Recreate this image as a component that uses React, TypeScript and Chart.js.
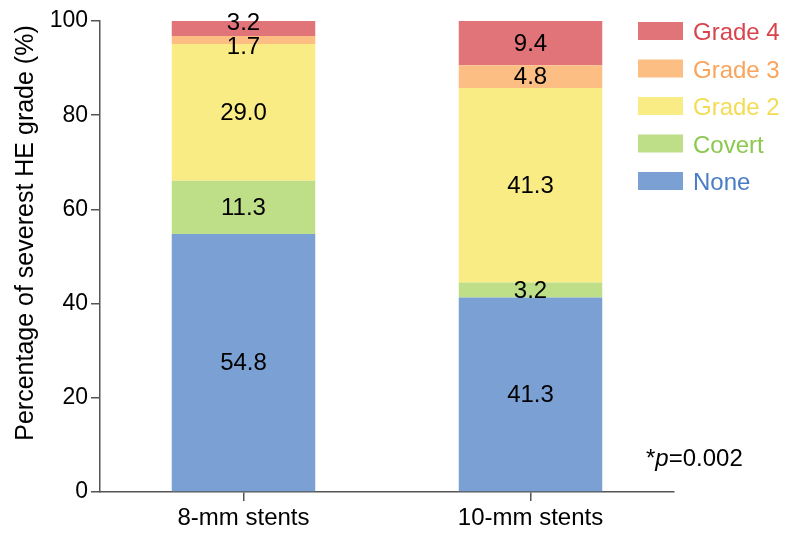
import React, { useEffect, useRef } from "react";
import { Chart, registerables } from "chart.js";

Chart.register(...registerables);

const categories = ["8-mm stents", "10-mm stents"];
const seriesNames = ["None", "Covert", "Grade 2", "Grade 3", "Grade 4"];
const noneValues = [54.8, 41.3];
const covertValues = [11.3, 3.2];
const grade2Values = [29.0, 41.3];
const grade3Values = [1.7, 4.8];
const grade4Values = [3.2, 9.4];
const yTicks = [0, 20, 40, 60, 80, 100];
const barColors = ["#7ba1d4", "#bedf88", "#f9ec84", "#fdbe84", "#e07479"];
const textColors = ["#4a7cc6", "#8cc84e", "#f3dc55", "#f8a45c", "#d8434c"];
const yTitle = "Percentage of severest HE grade (%)";
const pText = "0.002";

const FONT = "'Liberation Sans', Arial, Helvetica, sans-serif";

const overlayPlugin = {
  id: "overlay",
  afterDatasetsDraw(chart: any) {
    const ctx = chart.ctx;
    ctx.save();
    ctx.font = `24px ${FONT}`;
    ctx.fillStyle = "#000";
    ctx.textAlign = "center";
    ctx.textBaseline = "middle";
    const nCat = chart.data.labels.length;
    for (let j = 0; j < nCat; j++) {
      const items: { x: number; y: number; t: string }[] = [];
      chart.data.datasets.forEach((ds: any, i: number) => {
        const el = chart.getDatasetMeta(i).data[j];
        items.push({ x: el.x, y: (el.y + el.base) / 2, t: Number(ds.data[j]).toFixed(1) });
      });
      items.sort((a, b) => a.y - b.y);
      const minGap = 24;
      for (let iter = 0; iter < 10; iter++) {
        for (let k = 0; k < items.length - 1; k++) {
          const a = items[k], b = items[k + 1];
          const gap = b.y - a.y;
          if (gap < minGap) {
            const push = (minGap - gap) / 2;
            a.y -= push;
            b.y += push;
          }
        }
      }
      items.forEach((it) => ctx.fillText(it.t, it.x, it.y + 1));
    }
    ctx.restore();
  },
  afterDraw(chart: any) {
    const ctx = chart.ctx;
    ctx.save();
    ctx.translate(33, 233);
    ctx.rotate(-Math.PI / 2);
    ctx.font = `25px ${FONT}`;
    ctx.fillStyle = "#000";
    ctx.textAlign = "center";
    ctx.textBaseline = "alphabetic";
    ctx.fillText(yTitle, 0, 0);
    ctx.restore();

    ctx.save();
    ctx.font = `24px ${FONT}`;
    ctx.textAlign = "left";
    ctx.textBaseline = "alphabetic";
    const n = seriesNames.length;
    for (let k = 0; k < n; k++) {
      const idx = n - 1 - k;
      const top = 22 + k * 37.5;
      ctx.fillStyle = barColors[idx];
      ctx.fillRect(638, top, 45, 18);
      ctx.fillStyle = textColors[idx];
      ctx.fillText(seriesNames[idx], 693, top + 18);
    }
    ctx.restore();

    ctx.save();
    ctx.fillStyle = "#000";
    ctx.textAlign = "left";
    ctx.textBaseline = "alphabetic";
    let x = 646;
    const base = 466;
    ctx.font = `24px ${FONT}`;
    ctx.fillText("*", x, base);
    x += ctx.measureText("*").width;
    ctx.font = `italic 24px ${FONT}`;
    ctx.fillText("p", x, base);
    x += ctx.measureText("p").width;
    ctx.font = `24px ${FONT}`;
    ctx.fillText("=" + pText, x, base);
    ctx.restore();
  },
};

export default function App() {
  const ref = useRef<HTMLCanvasElement | null>(null);
  useEffect(() => {
    document.body.style.margin = "0";
    const values = [noneValues, covertValues, grade2Values, grade3Values, grade4Values];
    const chart = new Chart(ref.current as HTMLCanvasElement, {
      type: "bar",
      data: {
        labels: categories,
        datasets: seriesNames.map((name, i) => ({
          label: name,
          data: values[i],
          backgroundColor: barColors[i],
          borderWidth: 0,
          categoryPercentage: 1,
          barPercentage: 0.5,
        })),
      },
      options: {
        responsive: false,
        animation: false,
        devicePixelRatio: 1,
        layout: { padding: { left: 0, top: 21, right: 113, bottom: 0 } },
        plugins: { legend: { display: false }, tooltip: { enabled: false } },
        scales: {
          x: {
            stacked: true,
            afterFit: (s: any) => {
              s.height = 42;
            },
            border: { display: true, color: "#555555", width: 1.5 },
            grid: { display: true, drawOnChartArea: false, offset: false, tickLength: 9, color: "#555555", lineWidth: 1.5 },
            ticks: { color: "#000", font: { size: 24, family: FONT }, padding: 3 },
          },
          y: {
            stacked: true,
            min: 0,
            max: 100,
            afterFit: (s: any) => {
              s.width = 100;
            },
            afterBuildTicks: (s: any) => {
              s.ticks = yTicks.map((v) => ({ value: v }));
            },
            border: { display: true, color: "#555555", width: 1.5 },
            grid: { display: true, drawOnChartArea: false, tickLength: 9, color: "#555555", lineWidth: 1.5 },
            ticks: { color: "#000", font: { size: 23, family: FONT }, padding: 3 },
          },
        },
      },
      plugins: [overlayPlugin],
    });
    return () => chart.destroy();
  }, []);
  return <canvas ref={ref} width={787} height={534} style={{ display: "block" }} />;
}
